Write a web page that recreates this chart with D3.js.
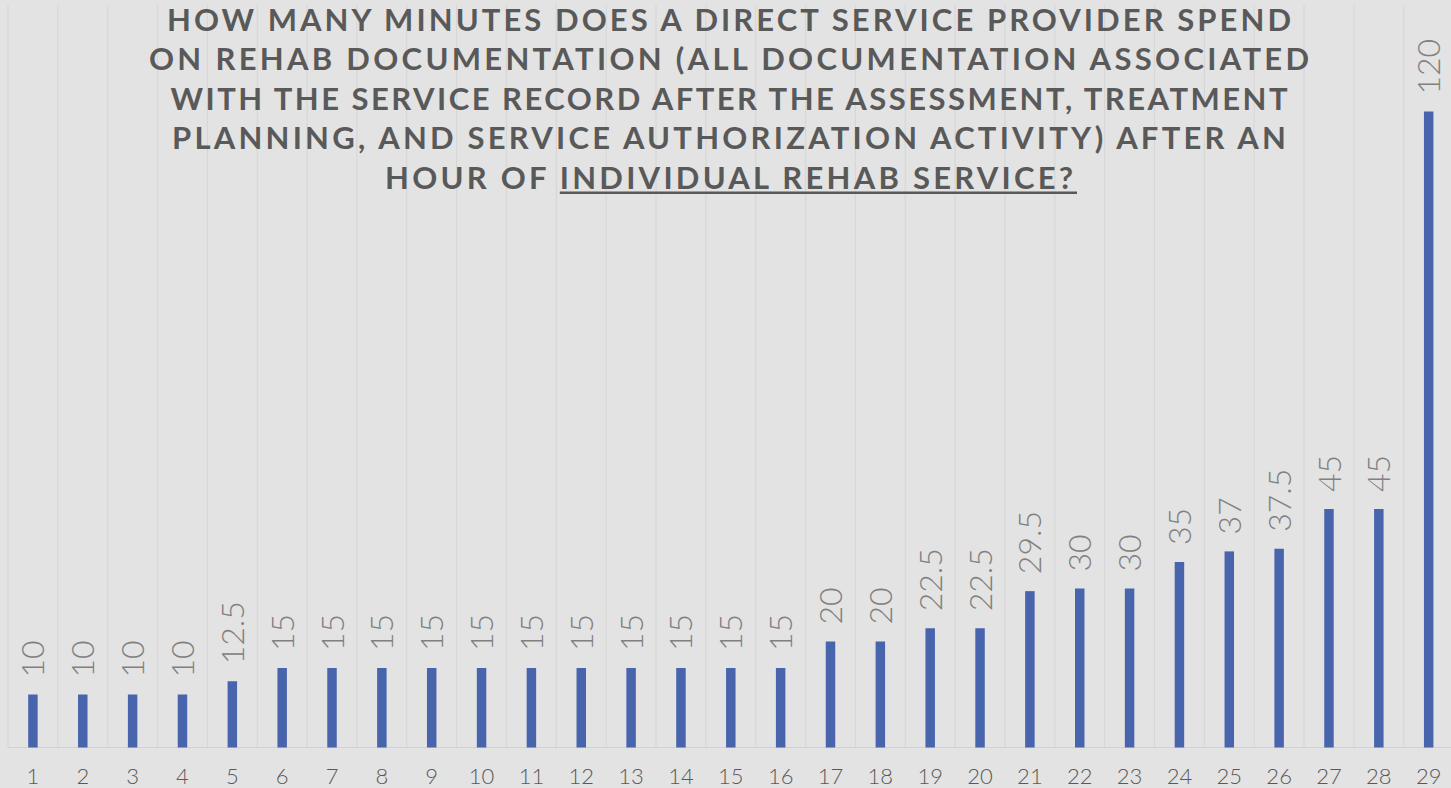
<!DOCTYPE html>
<html>
<head>
<meta charset="utf-8">
<script src="https://cdn.jsdelivr.net/npm/d3@7"></script>
<style>
  html, body { margin: 0; padding: 0; background: #e3e3e3; overflow: hidden; }
  svg { display: block; }
</style>
</head>
<body>
<script>
"use strict";

// ----------------------------------------
//  Data
// ----------------------------------------
const categories = d3.range(1, 30).map(String);
const minutes = [10, 10, 10, 10, 12.5, 15, 15, 15, 15, 15, 15, 15, 15, 15, 15, 15,
                 20, 20, 22.5, 22.5, 29.5, 30, 30, 35, 37, 37.5, 45, 45, 120];
const valueLabels = ["10", "10", "10", "10", "12.5", "15", "15", "15", "15", "15", "15", "15", "15", "15", "15", "15",
                     "20", "20", "22.5", "22.5", "29.5", "30", "30", "35", "37", "37.5", "45", "45", "120"];

const titleLines = [
  "HOW MANY MINUTES DOES A DIRECT SERVICE PROVIDER SPEND",
  "ON REHAB DOCUMENTATION (ALL DOCUMENTATION ASSOCIATED",
  "WITH THE SERVICE RECORD AFTER THE ASSESSMENT, TREATMENT",
  "PLANNING, AND SERVICE AUTHORIZATION ACTIVITY) AFTER AN",
  "HOUR OF INDIVIDUAL REHAB SERVICE?"
];
const underlined = "INDIVIDUAL REHAB SERVICE?";

// ----------------------------------------
//  Layout
// ----------------------------------------
const width = 1451, height = 788;
const plot = { left: 8, right: 1453.6, top: 5, bottom: 747.5 };
const titleWidths = [1124, 1160, 1117, 1114, 688];

const svg = d3.select("body").append("svg")
    .attr("width", width)
    .attr("height", height);

svg.append("rect")
    .attr("width", width)
    .attr("height", height)
    .attr("fill", "#e3e3e3");

// ----------------------------------------
//  Scales
// ----------------------------------------
const x_scale = d3.scaleBand()
    .domain(categories)
    .range([plot.left, plot.right])
    .padding(0);

const y_scale = d3.scaleLinear()
    .domain([0, 120])
    .range([plot.bottom, 111.5]);

const barWidth = x_scale.bandwidth() * 0.19;

// ----------------------------------------
//  Grid
// ----------------------------------------
const grid = svg.append("g");
grid.selectAll("line.v")
    .data(categories.concat(["end"]))
    .enter()
    .append("line")
    .attr("class", "v")
    .attr("x1", d => d === "end" ? plot.right : x_scale(d))
    .attr("x2", d => d === "end" ? plot.right : x_scale(d))
    .attr("y1", plot.top)
    .attr("y2", plot.bottom)
    .attr("stroke", "#d7d7d7")
    .attr("stroke-width", 1.2);

grid.append("line")
    .attr("x1", plot.left)
    .attr("x2", width)
    .attr("y1", plot.bottom)
    .attr("y2", plot.bottom)
    .attr("stroke", "#d2d2d2")
    .attr("stroke-width", 1.2);

// ----------------------------------------
//  Bars
// ----------------------------------------
const rows = categories.map((c, i) => ({ cat: c, value: minutes[i], label: valueLabels[i] }));

svg.selectAll(".bar")
    .data(rows)
    .enter()
    .append("rect")
    .attr("class", "bar")
    .attr("x", d => x_scale(d.cat) + x_scale.bandwidth() / 2 - barWidth / 2)
    .attr("width", barWidth)
    .attr("y", d => y_scale(d.value))
    .attr("height", d => plot.bottom - y_scale(d.value))
    .attr("fill", "#4764ad");

// value labels, rotated
svg.selectAll(".vlabel")
    .data(rows)
    .enter()
    .append("text")
    .attr("class", "vlabel")
    .attr("transform", d => "translate(" + (x_scale(d.cat) + x_scale.bandwidth() / 2) + "," + (y_scale(d.value) - 17) + ") rotate(-90)")
    .attr("dy", "0.36em")
    .attr("text-anchor", "start")
    .attr("font-family", "Lato, 'Open Sans', sans-serif")
    .attr("font-weight", 300)
    .attr("font-size", 32)
    .attr("fill", "#808080")
    .text(d => d.label);

// ----------------------------------------
//  X axis labels
// ----------------------------------------
const xAxis = svg.append("g")
    .attr("transform", "translate(0," + plot.bottom + ")")
    .call(d3.axisBottom(x_scale).tickSize(0).tickPadding(0));
xAxis.select(".domain").remove();
xAxis.selectAll("text")
    .attr("y", 36)
    .attr("dy", 0)
    .attr("font-family", "Lato, 'Open Sans', sans-serif")
    .attr("font-weight", 300)
    .attr("font-size", 22)
    .attr("fill", "#595959");

// ----------------------------------------
//  Title
// ----------------------------------------
const title = svg.append("g");
titleLines.forEach((line, i) => {
    const t = title.append("text")
        .attr("x", 729)
        .attr("y", 30.7 + i * 39.5)
        .attr("text-anchor", "middle")
        .attr("font-family", "Lato, 'Open Sans', sans-serif")
        .attr("font-weight", 700)
        .attr("font-size", 31)
        .attr("fill", "#595959")
        .attr("textLength", titleWidths[i])
        .attr("lengthAdjust", "spacing")
        .text(line);

    const k = line.indexOf(underlined);
    if (k >= 0) {
        const node = t.node();
        const x0 = node.getStartPositionOfChar(k).x;
        const x1 = node.getEndPositionOfChar(line.length - 1).x;
        title.append("line")
            .attr("x1", x0)
            .attr("x2", Math.max(x1, x0) + 4)
            .attr("y1", 30.7 + i * 39.5 + 4)
            .attr("y2", 30.7 + i * 39.5 + 4)
            .attr("stroke", "#595959")
            .attr("stroke-width", 2.5);
    }
});
</script>
</body>
</html>
